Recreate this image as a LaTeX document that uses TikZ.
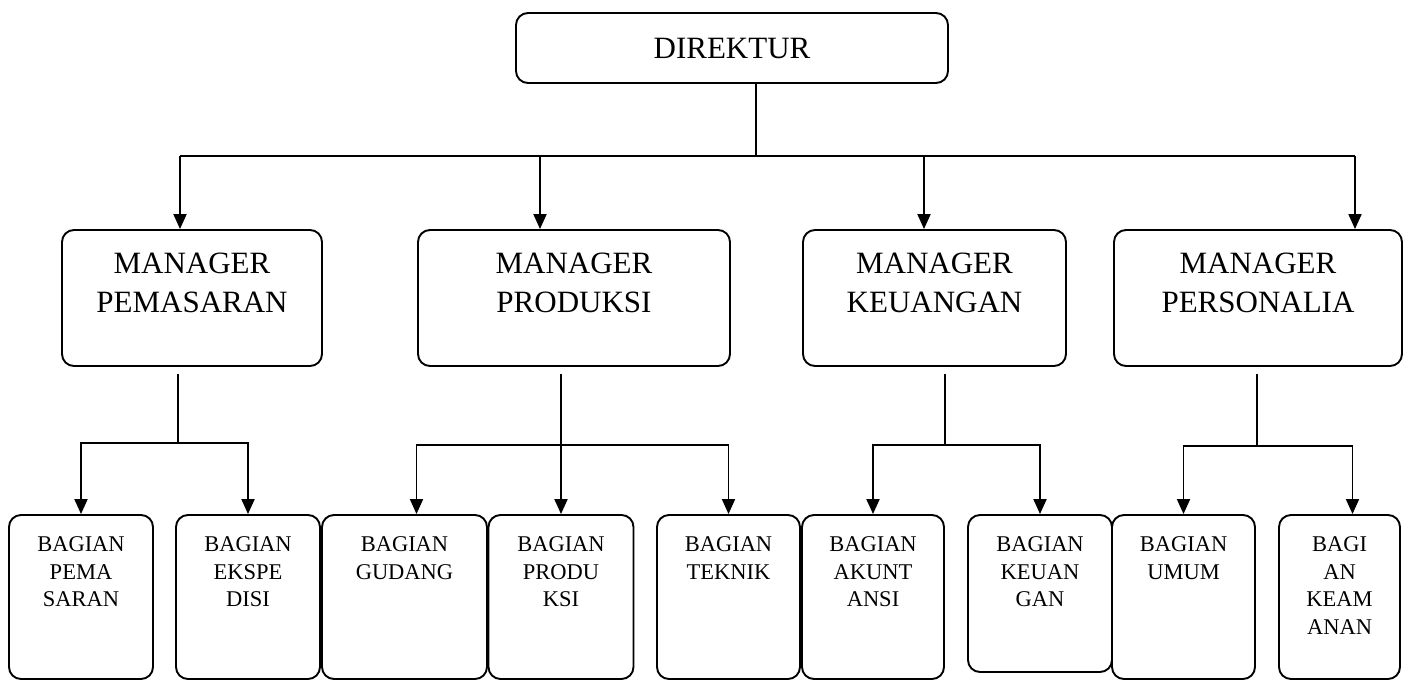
\documentclass[tikz,border=0pt]{standalone}
\usepackage{fontspec}
\setmainfont{Liberation Serif}
\usetikzlibrary{arrows.meta}

\tikzset{
  box/.style={draw, line width=1.9pt, rounded corners=12pt, inner sep=0pt},
  boxtext/.style={anchor=north, align=center, inner sep=0pt},
  mgrtext/.style={boxtext, yshift=-23pt, font=\fontsize{31}{39}\selectfont},
  bagtext/.style={boxtext, yshift=-22pt, font=\fontsize{22.5}{27.5}\selectfont},
  arr/.style={-{Triangle[length=15pt,width=13pt]}},
}

\begin{document}
\begin{tikzpicture}[x=1pt, y=-1pt, line width=1.9pt]
    \useasboundingbox (0,0) rectangle (1408,681);

    % direktur
    \node[box, minimum width=432, minimum height=70, font=\fontsize{31}{39}\selectfont] (dir) at (732,48) {DIREKTUR};

    % managers
    \node[box, minimum width=260, minimum height=136, label={[mgrtext]north:MANAGER\\PEMASARAN}] (mpem) at (192,298) {};
    \node[box, minimum width=312, minimum height=136, label={[mgrtext]north:MANAGER\\PRODUKSI}] (mprod) at (574,298) {};
    \node[box, minimum width=263, minimum height=136, label={[mgrtext]north:MANAGER\\KEUANGAN}] (mkeu) at (934.5,298) {};
    \node[box, minimum width=288, minimum height=136, label={[mgrtext]north:MANAGER\\PERSONALIA}] (mpers) at (1258,298) {};

    % bagian
    \node[box, minimum width=144, minimum height=164, label={[bagtext]north:BAGIAN\\PEMA\\SARAN}] (bpem) at (81,597) {};
    \node[box, minimum width=144, minimum height=164, label={[bagtext]north:BAGIAN\\EKSPE\\DISI}] (beksp) at (248,597) {};
    \node[box, minimum width=165, minimum height=164, label={[bagtext]north:BAGIAN\\GUDANG}] (bgud) at (404.5,597) {};
    \node[box, minimum width=145, minimum height=164, label={[bagtext]north:BAGIAN\\PRODU\\KSI}] (bprod) at (561,597) {};
    \node[box, minimum width=143, minimum height=164, label={[bagtext]north:BAGIAN\\TEKNIK}] (btek) at (728.5,597) {};
    \node[box, minimum width=142, minimum height=164, label={[bagtext]north:BAGIAN\\AKUNT\\ANSI}] (bakun) at (873,597) {};
    \node[box, minimum width=144, minimum height=157, label={[bagtext]north:BAGIAN\\KEUAN\\GAN}] (bkeu) at (1040,593.5) {};
    \node[box, minimum width=143, minimum height=164, label={[bagtext]north:BAGIAN\\UMUM}] (bumum) at (1183.5,597) {};
    \node[box, minimum width=121, minimum height=164, label={[bagtext]north:BAGI\\AN\\KEAM\\ANAN}] (bkeam) at (1339.5,597) {};

    % direktur to managers
    \coordinate (dbus) at (756,156);
    \coordinate (b1) at (180,156);
    \coordinate (b2) at (540,156);
    \coordinate (b3) at (924,156);
    \coordinate (b4) at (1355,156);
    \draw (dir.south -| dbus) -- (dbus);
    \draw (b1) -- (b4);
    \draw[arr] (b1) -- (b1 |- mpem.north);
    \draw[arr] (b2) -- (b2 |- mprod.north);
    \draw[arr] (b3) -- (b3 |- mkeu.north);
    \draw[arr] (b4) -- (b4 |- mpers.north);

    % managers to bagian
    \coordinate (p1) at (178,443);
    \coordinate (p2) at (561,445);
    \coordinate (p3) at (945,445);
    \coordinate (p4) at (1257,446);
    \draw[shorten <=7pt] (mpem.south -| p1) -- (p1);
    \draw[arr] (p1) -| (bpem.north);
    \draw[arr] (p1) -| (beksp.north);
    \draw[arr, shorten <=7pt] (mprod.south -| p2) -- (bprod.north);
    \draw[arr] (p2) -| ([xshift=12pt]bgud.north);
    \draw[arr] (p2) -| (btek.north);
    \draw[shorten <=7pt] (mkeu.south -| p3) -- (p3);
    \draw[arr] (p3) -| (bakun.north);
    \draw[arr] (p3) -| (bkeu.north);
    \draw[shorten <=7pt] (mpers.south -| p4) -- (p4);
    \draw[arr] (p4) -| (bumum.north);
    \draw[arr] (p4) -| ([xshift=13pt]bkeam.north);
\end{tikzpicture}
\end{document}
